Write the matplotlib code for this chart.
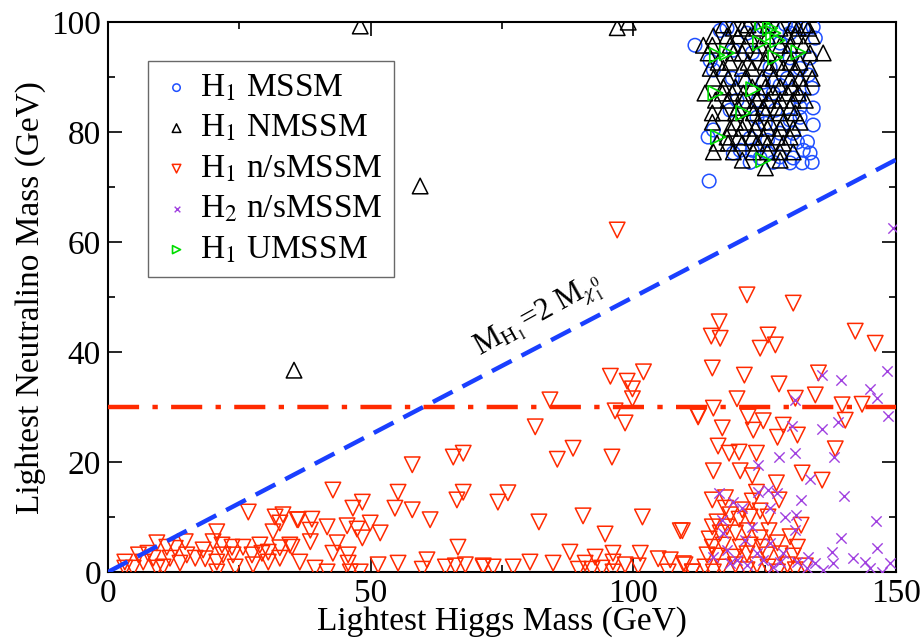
import matplotlib
matplotlib.use("Agg")
import matplotlib.pyplot as plt
from matplotlib.ticker import MultipleLocator

plt.rcParams['font.family'] = ['Liberation Serif', 'DejaVu Serif']
plt.rcParams['mathtext.fontset'] = 'stix'

# H1 MSSM (blue circles)
mssm_x = [114.4, 111.7, 134.2, 134.6, 133.6, 133.3, 134.0, 134.2, 134.2, 133.1, 133.6, 134.0,
          128.9, 130.8, 116.5, 121.6, 114.6, 120.7, 115.2, 127.9, 131.4, 131.7, 123.7, 127.0,
          123.5, 129.8, 115.2, 114.2, 122.2, 125.5, 127.9, 131.2, 122.6, 125.5, 127.9, 130.4,
          122.2, 126.6, 129.8, 132.1, 132.3, 119.0, 120.3, 124.1, 117.8, 124.7, 132.3, 129.8,
          127.9, 122.6, 129.8, 119.0, 131.7, 126.0, 118.8, 124.7, 129.3, 119.7, 118.4, 126.6,
          131.7, 125.1, 130.4]
mssm_y = [71.1, 95.8, 99.1, 97.1, 93.5, 90.4, 88.0, 84.4, 81.3, 78.2, 76.2, 74.5,
          99.6, 99.4, 98.5, 98.0, 93.0, 89.5, 91.3, 88.5, 86.4, 84.5, 85.8, 84.0,
          82.7, 82.2, 80.4, 79.1, 78.9, 78.5, 79.8, 78.2, 76.7, 76.2, 75.5, 75.3,
          74.5, 74.5, 74.4, 74.4, 76.7, 76.2, 76.7, 75.3, 98.9, 99.1, 98.9, 98.0,
          96.2, 94.4, 93.5, 94.9, 91.6, 91.8, 89.8, 89.1, 89.8, 85.8, 84.0, 87.1,
          82.7, 81.6, 79.8]

# H1 NMSSM (black triangles)
nmssm_x = [48.0, 96.9, 99.0, 59.4, 35.4,
           117.1, 121.8, 125.6, 130.4, 132.7,
           119.0, 120.7, 123.5, 127.9, 131.3, 133.3,
           115.2, 117.8, 119.9, 122.2, 125.5, 129.3, 130.8, 134.0,
           113.3, 115.0, 118.4, 121.3, 124.1, 127.9, 129.8, 132.3,
           114.2, 119.0, 120.7, 123.5, 125.6, 129.3, 133.6, 136.1,
           116.1, 118.4, 121.8, 125.1, 127.4, 129.8, 131.7,
           114.6, 117.1, 120.7, 122.6, 126.0, 128.5, 130.8, 133.6,
           115.2, 118.0, 121.3, 124.5, 126.6, 129.8, 131.7, 134.0,
           117.1, 119.4, 122.6, 125.1, 127.9, 130.2, 132.3,
           113.6, 116.9, 118.8, 120.9, 124.1, 126.6, 129.3, 131.4,
           115.6, 118.0, 120.9, 123.5, 125.6, 127.9, 130.4, 132.7,
           119.9, 122.6, 124.7, 127.4, 129.8,
           115.0, 117.1, 119.4, 122.8, 125.1, 127.9, 130.8,
           115.0, 119.4, 121.3, 123.7, 126.0, 128.5, 131.7,
           118.4, 120.7, 123.2, 125.5, 127.9, 130.4,
           117.8, 119.9, 122.6, 124.7, 127.4, 129.8,
           115.9, 118.0, 120.7, 123.5, 125.6, 128.5,
           115.2, 119.0, 122.8, 125.5, 127.9, 130.4,
           120.7, 127.9, 125.1]
nmssm_y = [99.3, 99.0, 100.0, 70.2, 36.7,
           99.5, 99.5, 99.5, 99.5, 99.5,
           98.9, 98.9, 98.9, 98.9, 98.9, 98.9,
           97.5, 97.5, 97.5, 97.5, 97.5, 97.5, 97.5, 97.5,
           95.8, 95.8, 95.8, 95.8, 95.8, 95.8, 95.8, 95.8,
           94.4, 94.4, 94.4, 94.4, 94.4, 94.4, 94.4, 94.4,
           92.7, 92.7, 92.7, 92.7, 92.7, 92.7, 92.7,
           91.6, 91.6, 91.6, 91.6, 91.6, 91.6, 91.6, 91.6,
           89.8, 89.8, 89.8, 89.8, 89.8, 89.8, 89.8, 89.8,
           88.2, 88.2, 88.2, 88.2, 88.2, 88.2, 88.2,
           87.1, 87.1, 87.1, 87.1, 87.1, 87.1, 87.1, 87.1,
           85.8, 85.8, 85.8, 85.8, 85.8, 85.8, 85.8, 85.8,
           84.5, 84.5, 84.5, 84.5, 84.5,
           83.5, 83.5, 83.5, 83.5, 83.5, 83.5, 83.5,
           81.8, 81.8, 81.8, 81.8, 81.8, 81.8, 81.8,
           80.7, 80.7, 80.7, 80.7, 80.7, 80.7,
           79.1, 79.1, 79.1, 79.1, 79.1, 79.1,
           78.0, 78.0, 78.0, 78.0, 78.0, 78.0,
           76.4, 76.4, 76.4, 76.4, 76.4, 76.4,
           74.9, 74.9, 73.5]

# H1 n/sMSSM (red down triangles)
nsm1_x = [3.2, 3.2, 4.8, 5.8, 6.7, 7.6, 8.6, 9.3, 9.3, 10.5, 11.2, 11.8, 12.8, 13.7, 14.7,
          15.0, 16.6, 18.1, 18.5, 20.7, 20.0, 20.7, 20.7, 21.7, 21.9, 23.6, 23.8, 24.2, 25.7,
          26.7, 27.4, 27.6, 28.9, 29.3, 30.5, 30.5, 31.8, 31.4, 32.7, 33.3, 32.7, 32.7, 34.6,
          36.2, 36.5,
          65.7, 67.6, 57.9, 42.8, 55.2, 67.6, 66.4, 46.6, 48.4, 54.6, 57.9, 61.3, 36.0, 38.8,
          38.5, 41.7, 45.5, 47.4, 49.9, 51.8, 48.4, 38.5, 43.6, 42.8, 45.7, 35.0, 66.6, 39.4,
          41.7, 45.7, 46.1, 48.0, 51.4, 55.2, 59.8, 60.7, 64.2, 66.1, 68.0, 71.4,
          101.9, 95.6, 98.8, 99.8, 99.8, 84.1, 96.5, 98.4, 112.3, 81.3, 88.5, 85.5, 95.9, 76.1,
          74.2, 82.0, 90.4, 101.7, 94.6, 108.9, 87.9, 96.1, 101.3, 92.7, 80.3, 84.7, 90.8, 96.1,
          98.4, 104.7, 107.0, 109.5, 77.1, 73.3, 71.4, 89.5, 92.1, 94.0, 96.1, 100.9, 106.6,
          111.2, 96.9,
          121.6, 130.4, 116.3, 114.8, 116.5, 125.6, 127.0, 124.1, 142.2, 146.0, 115.0, 121.1,
          127.7, 135.2, 130.8, 134.6, 119.7, 115.2, 112.3, 139.7, 143.5, 121.8, 124.7, 140.3,
          122.8, 116.9, 128.5, 127.4, 131.2, 116.1, 118.2, 120.1, 123.4, 138.4, 115.2, 120.3,
          122.6, 132.1, 135.9, 127.2, 123.4, 115.0, 117.5, 122.6, 127.7, 117.5, 120.7, 124.1,
          118.4, 115.9, 120.1, 122.2, 125.6, 131.9, 109.3, 115.0, 117.8, 114.4, 116.5, 119.4,
          121.6, 125.8, 129.8, 124.1, 115.0, 117.1, 120.3, 122.2, 124.5, 127.4, 131.2, 114.0,
          115.9, 119.0, 121.6, 125.4, 127.9, 130.4, 109.8, 111.2, 113.6, 115.2, 116.9, 119.4,
          121.6, 123.5, 125.6, 127.4, 129.3, 130.8, 132.7]
nsm1_y = [1.8, 0.7, 0.7, 3.1, 1.8, 3.4, 2.5, 5.3, 0.7, 0.9, 4.5, 2.5, 4.3, 1.6, 5.5,
          3.1, 2.5, 4.0, 2.4, 7.3, 5.5, 1.8, 0.0, 4.9, 3.1, 4.5, 3.1, 0.9, 4.5,
          10.9, 3.1, 1.3, 4.9, 3.4, 3.6, 1.8, 10.0, 7.3, 8.9, 10.4, 4.4, 2.5, 4.9,
          9.5, 1.8,
          20.9, 21.6, 19.5, 14.9, 14.5, 14.5, 13.1, 11.6, 12.7, 11.6, 11.3, 9.5, 9.5, 9.6,
          7.6, 8.2, 8.4, 7.8, 8.9, 7.1, 6.2, 5.5, 5.3, 3.4, 3.1, 4.5, 4.5, 0.7,
          0.0, 1.6, 0.0, 0.0, 1.3, 1.6, 0.5, 2.2, 0.9, 1.1, 1.3, 1.1,
          36.4, 35.6, 34.7, 33.3, 31.5, 31.3, 29.3, 27.1, 28.2, 26.4, 22.5, 20.5, 20.9, 14.4,
          12.7, 9.1, 10.2, 10.0, 6.9, 7.5, 3.6, 3.4, 3.4, 2.7, 1.8, 1.6, 1.6, 1.8,
          1.3, 2.4, 2.2, 1.5, 0.9, 0.9, 0.9, 0.5, 0.5, 0.7, 0.0, 1.1, 0.0,
          0.0, 62.2,
          50.4, 48.9, 45.5, 42.9, 42.5, 43.1, 41.3, 40.7, 43.8, 41.6, 37.1, 35.8,
          34.2, 36.2, 31.6, 32.2, 31.5, 29.8, 28.4, 30.4, 30.5, 28.2, 27.5, 27.6,
          25.8, 26.2, 26.7, 24.5, 24.9, 22.9, 21.6, 21.8, 21.6, 22.4, 18.4, 18.4,
          17.5, 18.0, 16.7, 16.2, 14.5, 13.1, 13.5, 12.9, 13.1, 11.6, 11.3, 11.1,
          10.4, 9.1, 9.6, 10.0, 10.0, 8.5, 7.5, 8.2, 8.2, 6.0, 7.1, 7.1,
          7.5, 7.5, 6.4, 6.2, 4.5, 4.9, 4.5, 4.9, 4.5, 5.3, 4.5, 3.1,
          2.9, 2.7, 3.3, 3.1, 3.3, 2.9, 1.3, 0.0, 0.9, 0.0, 0.9, 1.3,
          0.4, 1.3, 0.9, 0.0, 1.3, 0.4, 1.1]

# H2 n/sMSSM (purple crosses)
nsm2_x = [149.4, 148.3, 135.9, 139.5, 145.1, 146.4, 130.8, 148.5, 139.0, 130.2, 135.9, 130.8,
          127.7, 138.2, 123.7, 133.6, 140.1, 131.9, 116.3, 119.0, 123.7, 125.6, 127.4, 126.0,
          120.7, 128.9, 131.0, 146.2, 116.9, 122.6, 130.8, 139.5, 117.1, 121.3, 126.0, 146.4,
          137.8, 117.8, 123.5, 128.5, 133.3, 141.8, 144.1, 148.9, 134.6, 138.0, 115.2, 119.7,
          124.7, 127.9, 131.2, 133.1, 136.1, 145.1, 147.3, 118.4, 121.6, 126.6]
nsm2_y = [62.5, 36.5, 35.8, 34.9, 33.3, 31.6, 31.3, 28.4, 27.3, 26.5, 26.0, 21.6,
          20.9, 20.9, 19.5, 16.9, 13.8, 13.1, 14.4, 12.7, 14.5, 14.9, 14.4, 11.6,
          11.6, 10.0, 10.4, 9.3, 9.5, 8.2, 7.6, 6.2, 7.1, 5.8, 5.3, 4.4,
          3.6, 4.0, 3.5, 3.5, 2.7, 2.5, 1.8, 1.6, 1.6, 1.6, 2.7, 2.2,
          2.2, 1.8, 1.8, 0.7, 0.4, 0.7, 0.0, 1.6, 1.3, 0.9]

# H1 UMSSM (green right triangles)
umssm_x = [124.5, 126.0, 126.6, 124.1, 127.4, 115.9, 117.8, 127.0, 131.4, 122.8, 115.6,
           120.9, 116.1, 124.7]
umssm_y = [99.8, 98.9, 98.0, 96.2, 96.7, 94.0, 94.4, 93.6, 94.5, 87.8, 87.1,
           83.5, 79.1, 74.9]

line_x = [0, 150]
kin_y = [0, 75]
cut_y = [30, 30]

fig = plt.figure(figsize=(9.23, 6.43), dpi=100)
ax = fig.add_axes([0.117, 0.1105, 0.854, 0.855])

ax.scatter(mssm_x, mssm_y, marker='o', s=95, facecolors='none', edgecolors='#1f4fff',
           linewidths=1.1, label=r'H$_1$ MSSM', zorder=3)
ax.scatter(nmssm_x, nmssm_y, marker='^', s=125, facecolors='none', edgecolors='black',
           linewidths=1.1, label=r'H$_1$ NMSSM', zorder=4)
ax.scatter(nsm1_x, nsm1_y, marker='v', s=125, facecolors='none', edgecolors='#ff2a00',
           linewidths=1.1, label=r'H$_1$ n/sMSSM', zorder=3)
ax.scatter(nsm2_x, nsm2_y, marker='x', s=55, color='#a040e0', linewidths=1.0,
           label=r'H$_2$ n/sMSSM', zorder=4)
ax.scatter(umssm_x, umssm_y, marker='>', s=110, facecolors='none', edgecolors='#00dd00',
           linewidths=1.2, label=r'H$_1$ UMSSM', zorder=5)

ax.plot(line_x, kin_y, color='#1a3fff', lw=3.2, dashes=(5, 2.5), zorder=6)
ax.plot(line_x, cut_y, color='#ff2a00', lw=3.2, dashes=(7, 3, 1.2, 3), zorder=6)

ax.text(82.0, 46.3, r'M$_{\mathrm{H}_1}$=2 M$_{\chi_1^0}$', fontsize=22, rotation=29,
        ha='center', va='center')

ax.set_xlim(0, 150)
ax.set_ylim(0, 100)
ax.xaxis.set_major_locator(MultipleLocator(50))
ax.xaxis.set_minor_locator(MultipleLocator(25))
ax.yaxis.set_major_locator(MultipleLocator(20))
ax.yaxis.set_minor_locator(MultipleLocator(10))
ax.tick_params(which='both', direction='in', top=True, right=True, labelsize=24, width=1.2)
ax.tick_params(which='major', length=10, pad=5)
ax.tick_params(which='minor', length=5)
for sp in ax.spines.values():
    sp.set_linewidth(1.5)

ax.set_xlabel('Lightest Higgs Mass (GeV)', fontsize=24, labelpad=-2)
ax.set_ylabel('Lightest Neutralino Mass (GeV)', fontsize=24, labelpad=4)

leg = ax.legend(loc='upper left', bbox_to_anchor=(0.051, 0.929), borderaxespad=0,
                fontsize=24, markerscale=0.55, frameon=True, fancybox=False,
                edgecolor='#444444', handletextpad=0.2, labelspacing=0.3, borderpad=0.35,
                handlelength=1.0)
leg.get_frame().set_linewidth(1.0)

fig.savefig('out.png', dpi=100)
